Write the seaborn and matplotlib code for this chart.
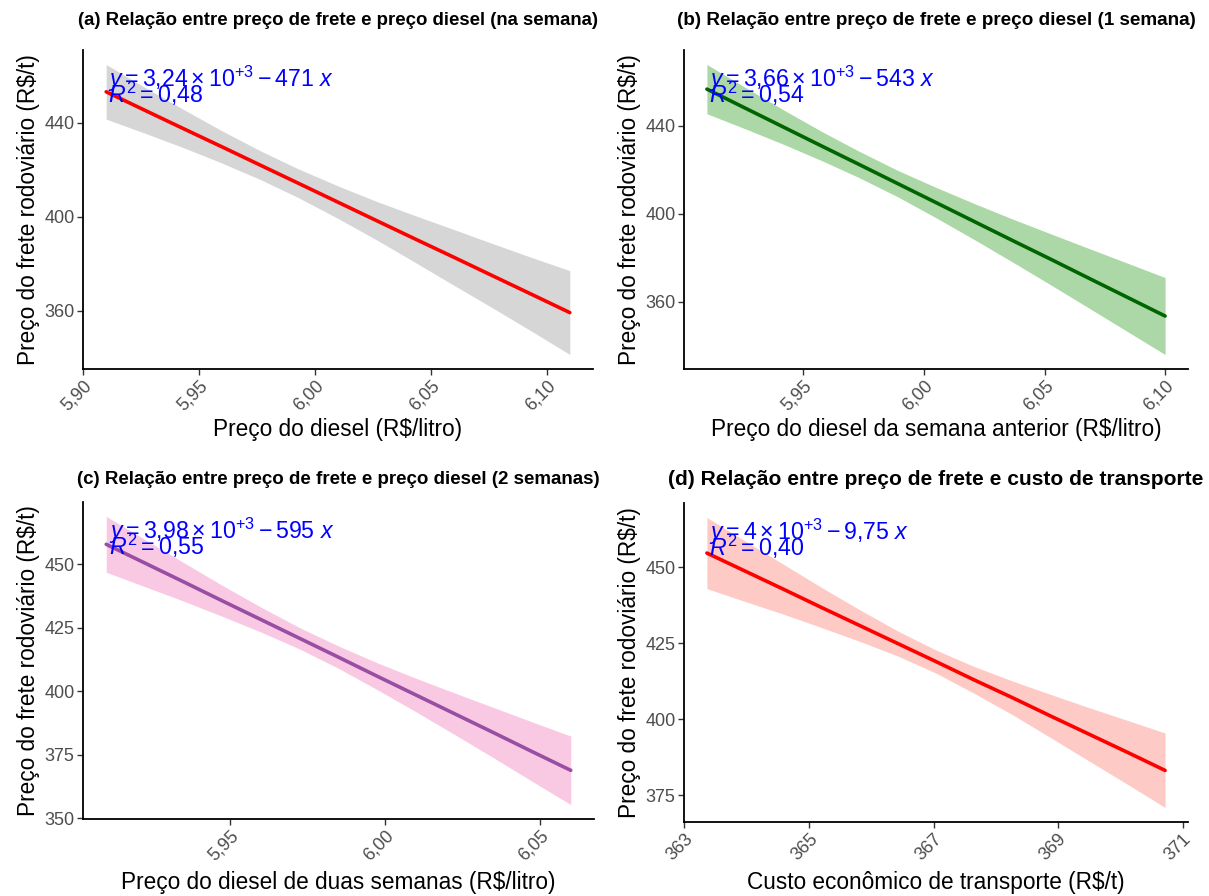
import matplotlib
matplotlib.use("Agg")
import matplotlib.pyplot as plt
import seaborn as sns
import pandas as pd

# ---------------- data ----------------
# (a) diesel same week: fitted line and confidence band
a_x = [5.910, 5.927, 5.943, 5.960, 5.977, 5.993, 6.010, 6.027, 6.043, 6.060, 6.077, 6.093, 6.110]
a_fit = [453.1, 445.1, 437.6, 429.7, 421.7, 414.2, 406.2, 398.2, 390.7, 382.8, 374.8, 367.3, 359.3]
a_lo = [441.5, 435.4, 429.5, 422.8, 415.6, 408.1, 399.3, 390.0, 380.8, 370.9, 361.1, 351.7, 341.5]
a_hi = [464.7, 454.8, 445.8, 436.5, 427.8, 420.3, 413.1, 406.4, 400.6, 394.6, 388.5, 382.9, 377.1]

# (b) diesel 1 week before
b_x = [5.910, 5.926, 5.942, 5.958, 5.973, 5.989, 6.005, 6.021, 6.037, 6.053, 6.068, 6.084, 6.100]
b_fit = [456.7, 448.0, 439.3, 430.6, 422.5, 413.8, 405.1, 396.4, 387.7, 379.1, 370.9, 362.2, 353.5]
b_lo = [445.5, 438.6, 431.5, 424.0, 416.5, 407.8, 398.2, 388.2, 377.9, 367.4, 357.4, 346.7, 336.0]
b_hi = [467.9, 457.4, 447.1, 437.2, 428.5, 419.8, 412.0, 404.6, 397.5, 390.7, 384.4, 377.7, 371.0]

# (c) diesel 2 weeks before
c_x = [5.910, 5.9225, 5.935, 5.9475, 5.960, 5.9725, 5.985, 5.9975, 6.010, 6.0225, 6.035, 6.0475, 6.060]
c_fit = [457.9, 450.5, 443.1, 435.6, 428.2, 420.8, 413.4, 405.9, 398.5, 391.1, 383.7, 376.2, 368.8]
c_lo = [446.9, 441.2, 435.5, 429.5, 423.3, 416.6, 409.0, 400.6, 391.9, 382.9, 373.8, 364.5, 355.3]
c_hi = [468.9, 459.8, 450.7, 441.7, 433.1, 425.0, 417.8, 411.2, 405.1, 399.3, 393.6, 387.9, 382.3]

# (d) economic transport cost
d_x = [363.36, 363.97, 364.59, 365.20, 365.81, 366.43, 367.04, 367.65, 368.27, 368.88, 369.49, 370.11, 370.72]
d_fit = [454.7, 448.8, 442.8, 436.8, 430.9, 424.9, 419.0, 413.0, 407.1, 401.1, 395.2, 389.2, 383.2]
d_lo = [443.0, 438.8, 434.6, 430.2, 425.7, 420.8, 415.2, 408.6, 401.5, 394.0, 386.4, 378.7, 371.0]
d_hi = [466.4, 458.7, 451.0, 443.4, 436.1, 429.0, 422.8, 417.4, 412.6, 408.2, 403.9, 399.7, 395.5]

titles = [
    "(a) Relação entre preço de frete e preço diesel (na semana)",
    "(b) Relação entre preço de frete e preço diesel (1 semana)",
    "(c) Relação entre preço de frete e preço diesel (2 semanas)",
    "(d) Relação entre preço de frete e custo de transporte",
]
xlabels = [
    "Preço do diesel (R$/litro)",
    "Preço do diesel da semana anterior (R$/litro)",
    "Preço do diesel de duas semanas (R$/litro)",
    "Custo econômico de transporte (R$/t)",
]
ylabel = "Preço do frete rodoviário (R$/t)"
eq_labels = [
    r"$y = 3{,}24\times 10^{+3} - 471\ x$",
    r"$y = 3{,}66\times 10^{+3} - 543\ x$",
    r"$y = 3{,}98\times 10^{+3} - 595\ x$",
    r"$y = 4\times 10^{+3} - 9{,}75\ x$",
]
r2_labels = [r"$R^2 = 0{,}48$", r"$R^2 = 0{,}54$", r"$R^2 = 0{,}55$", r"$R^2 = 0{,}40$"]

xticks = [
    [5.90, 5.95, 6.00, 6.05, 6.10],
    [5.95, 6.00, 6.05, 6.10],
    [5.95, 6.00, 6.05],
    [363, 365, 367, 369, 371],
]
xtick_labels = [
    ["5,90", "5,95", "6,00", "6,05", "6,10"],
    ["5,95", "6,00", "6,05", "6,10"],
    ["5,95", "6,00", "6,05"],
    ["363", "365", "367", "369", "371"],
]
yticks = [[360, 400, 440], [360, 400, 440], [350, 375, 400, 425, 450], [375, 400, 425, 450]]

line_colors = ["#FF0000", "#006400", "#984EA3", "#FF0000"]
band_colors = ["#D6D6D6", "#ABD8A6", "#F9C9E4", "#FDCAC5"]

# ---------------- style ----------------
sns.set_theme(style="ticks")
plt.rcParams["font.family"] = ["Liberation Sans", "DejaVu Sans"]
plt.rcParams["mathtext.fontset"] = "custom"
plt.rcParams["mathtext.rm"] = "Liberation Sans"
plt.rcParams["mathtext.it"] = "Liberation Sans:italic"
plt.rcParams["mathtext.bf"] = "Liberation Sans:bold"

W, H = 1209, 896
fig = plt.figure(figsize=(W / 100, H / 100), dpi=100)

# axes rectangles in pixels: left, top, right, bottom
rects = [(83, 50, 593, 369), (684, 50, 1188, 369), (83, 502, 594, 819), (684, 503, 1188, 822)]
title_sizes = [13.4, 13.6, 13.5, 15.1]
title_pads = [18, 18, 13, 13]
xlabel_pads = [3, 3, 5, 5]

datasets = [
    (a_x, a_fit, a_lo, a_hi),
    (b_x, b_fit, b_lo, b_hi),
    (c_x, c_fit, c_lo, c_hi),
    (d_x, d_fit, d_lo, d_hi),
]

for i, (xs, fit, lo, hi) in enumerate(datasets):
    l, t, r, b = rects[i]
    ax = fig.add_axes([l / W, 1 - b / H, (r - l) / W, (b - t) / H])
    df = pd.DataFrame({"x": xs, "fit": fit, "lo": lo, "hi": hi})
    ax.fill_between(df["x"], df["lo"], df["hi"], color=band_colors[i], linewidth=0, zorder=1)
    sns.lineplot(data=df, x="x", y="fit", ax=ax, color=line_colors[i], linewidth=2.6, zorder=2)

    xmin, xmax = min(xs), max(xs)
    dx = 0.05 * (xmax - xmin)
    ymin, ymax = min(lo), max(hi)
    dy = 0.05 * (ymax - ymin)
    ax.set_xlim(xmin - dx, xmax + dx)
    ax.set_ylim(ymin - dy, ymax + dy)

    ax.set_xticks(xticks[i])
    ax.set_xticklabels(xtick_labels[i], rotation=45, ha="right", va="top",
                       rotation_mode="anchor", fontsize=13, color="#4D4D4D")
    ax.set_yticks(yticks[i])
    ax.set_yticklabels([str(v) for v in yticks[i]], fontsize=13, color="#4D4D4D")
    ax.tick_params(axis="both", length=4, width=1.0, color="#333333", pad=2)

    for s in ["top", "right"]:
        ax.spines[s].set_visible(False)
    for s in ["left", "bottom"]:
        ax.spines[s].set_linewidth(1.3)
        ax.spines[s].set_color("black")

    ax.set_xlabel(xlabels[i], fontsize=16.3, color="black", labelpad=xlabel_pads[i])
    ax.set_ylabel(ylabel, fontsize=16.3, color="black", labelpad=3)
    ax.set_title(titles[i], fontsize=title_sizes[i], fontweight="bold", color="black",
                 pad=title_pads[i])

    ax.text(0.05, 0.884, eq_labels[i], transform=ax.transAxes, fontsize=16.7,
            color="blue", ha="left", va="baseline", zorder=5)
    ax.text(0.05, 0.834, r2_labels[i], transform=ax.transAxes, fontsize=16.7,
            color="blue", ha="left", va="baseline", zorder=5)

fig.savefig("out.png", dpi=100, facecolor="white")
